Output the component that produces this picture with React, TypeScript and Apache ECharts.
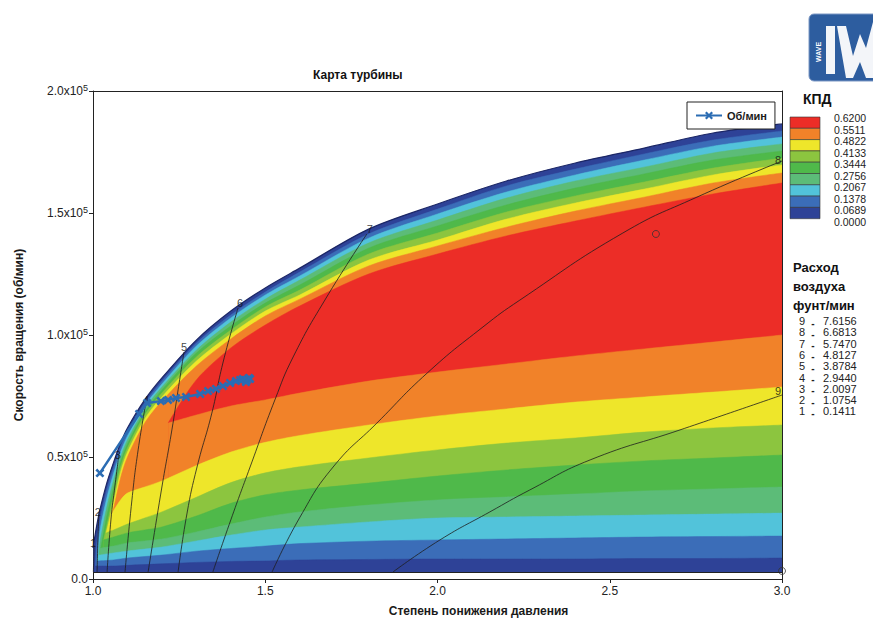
import { useEffect, useRef } from "react";
import * as echarts from "echarts";

const FONT = "'Liberation Sans', Arial, sans-serif";

// x: pressure ratio, y: rotor speed in thousands of rpm
const ENVELOPE = [[1.0,12.7],[1.01,21.3],[1.02,28.3],[1.04,39.3],[1.06,47.9],[1.08,55.7],[1.1,61.9],[1.15,73.4],[1.2,82.4],[1.3,97.9],[1.4,109.8],[1.5,119.3],[1.6,127.4],[1.8,143.4],[2.0,153.7],[2.2,163.1],[2.4,170.5],[2.6,176.6],[2.8,182.8],[3.0,186.5]];

// upper branches of efficiency contours (levels 1..8)
const KPD_U1 = [[1.007,5.3],[1.01,13.9],[1.02,24.2],[1.04,36.5],[1.06,45.9],[1.08,54.1],[1.1,60.2],[1.15,72.1],[1.2,81.1],[1.3,96.7],[1.4,108.2],[1.5,117.6],[1.6,125.8],[1.8,141.4],[2.0,151.6],[2.2,161.1],[2.4,168.0],[2.6,174.2],[2.8,179.9],[3.0,183.6]];
const KPD_U2 = [[1.012,7.4],[1.02,19.7],[1.04,33.2],[1.06,43.4],[1.08,52.0],[1.1,58.6],[1.15,70.9],[1.2,79.9],[1.3,95.5],[1.4,107.0],[1.5,116.4],[1.6,124.2],[1.8,139.7],[2.0,149.6],[2.2,158.6],[2.4,165.6],[2.6,171.7],[2.8,177.4],[3.0,181.1]];
const KPD_U3 = [[1.017,9.8],[1.02,14.8],[1.04,29.5],[1.06,40.6],[1.08,50.0],[1.1,57.0],[1.15,69.7],[1.2,78.7],[1.3,93.8],[1.4,105.3],[1.5,114.7],[1.6,122.5],[1.8,137.7],[2.0,147.1],[2.2,156.1],[2.4,163.1],[2.6,168.8],[2.8,174.6],[3.0,178.3]];
const KPD_U4 = [[1.023,12.7],[1.04,25.8],[1.06,37.7],[1.08,47.9],[1.1,55.3],[1.15,68.4],[1.2,77.5],[1.3,92.6],[1.4,103.7],[1.5,113.1],[1.6,120.5],[1.8,135.6],[2.0,144.7],[2.2,153.3],[2.4,160.2],[2.6,166.0],[2.8,171.7],[3.0,175.4]];
const KPD_U5 = [[1.031,16.0],[1.04,21.7],[1.06,34.8],[1.08,45.9],[1.1,53.7],[1.15,67.2],[1.2,76.2],[1.3,91.0],[1.4,102.0],[1.5,111.5],[1.6,118.4],[1.8,133.2],[2.0,141.8],[2.2,150.4],[2.4,157.0],[2.6,162.7],[2.8,168.4],[3.0,172.5]];
const KPD_U6 = [[1.038,18.9],[1.06,31.6],[1.08,43.8],[1.1,52.0],[1.15,65.6],[1.2,74.6],[1.3,89.3],[1.4,100.4],[1.5,109.8],[1.6,116.4],[1.8,130.7],[2.0,138.9],[2.2,147.5],[2.4,154.1],[2.6,159.8],[2.8,165.6],[3.0,169.7]];
const KPD_U7 = [[1.055,27.0],[1.06,29.1],[1.08,41.4],[1.1,50.0],[1.15,63.9],[1.2,72.9],[1.3,87.3],[1.4,98.4],[1.5,107.8],[1.6,114.7],[1.8,128.3],[2.0,136.5],[2.2,144.2],[2.4,150.8],[2.6,156.5],[2.8,162.3],[3.0,166.4]];
const KPD_U8 = [[1.218,63.9],[1.3,81.6],[1.4,94.7],[1.5,104.1],[1.6,111.9],[1.8,125.0],[2.0,133.2],[2.2,140.6],[2.4,146.7],[2.6,152.4],[2.8,157.8],[3.0,162.3]];

// lower branches of efficiency contours (levels 8..1)
const KPD_L8 = [[1.218,63.9],[1.3,67.2],[1.4,70.9],[1.5,73.4],[1.6,76.2],[1.8,81.1],[2.0,84.8],[2.2,88.1],[2.4,91.4],[2.6,94.3],[2.8,97.1],[3.0,100.0]];
const KPD_L7 = [[1.055,27.0],[1.08,32.4],[1.1,35.2],[1.15,37.7],[1.2,40.2],[1.3,46.5],[1.4,52.0],[1.5,56.0],[1.6,58.8],[1.8,63.1],[2.0,66.8],[2.2,69.7],[2.4,72.5],[2.6,74.6],[2.8,76.6],[3.0,78.7]];
const KPD_L6 = [[1.038,18.9],[1.06,20.1],[1.08,21.3],[1.1,22.5],[1.15,25.0],[1.2,27.5],[1.3,33.5],[1.4,39.5],[1.5,43.5],[1.6,46.0],[1.8,49.6],[2.0,52.9],[2.2,55.7],[2.4,57.8],[2.6,60.2],[2.8,61.9],[3.0,63.1]];
const KPD_L5 = [[1.031,16.0],[1.06,17.2],[1.1,18.9],[1.15,20.1],[1.2,21.3],[1.3,25.8],[1.4,31.0],[1.5,34.5],[1.6,36.5],[1.8,39.3],[2.0,42.2],[2.2,44.7],[2.4,46.7],[2.6,48.4],[2.8,49.6],[3.0,50.8]];
const KPD_L4 = [[1.023,12.7],[1.06,13.5],[1.1,14.8],[1.2,16.4],[1.3,19.3],[1.4,22.5],[1.5,25.4],[1.6,27.5],[1.8,30.3],[2.0,32.4],[2.2,33.6],[2.4,34.8],[2.6,36.1],[2.8,36.9],[3.0,37.7]];
const KPD_L3 = [[1.017,9.8],[1.06,10.7],[1.1,11.5],[1.2,13.1],[1.3,15.6],[1.4,18.0],[1.5,20.1],[1.6,21.3],[1.8,23.4],[2.0,25.0],[2.2,25.4],[2.4,25.8],[2.6,26.2],[2.8,26.6],[3.0,27.0]];
const KPD_L2 = [[1.012,7.4],[1.06,7.8],[1.1,8.6],[1.2,9.8],[1.3,11.4],[1.4,12.5],[1.5,13.5],[1.6,14.5],[1.8,15.5],[2.0,16.0],[2.2,16.4],[2.4,16.8],[2.6,17.2],[2.8,17.4],[3.0,17.6]];
const KPD_L1 = [[1.007,5.3],[1.06,5.3],[1.1,5.6],[1.2,6.2],[1.3,6.8],[1.4,7.2],[1.5,7.4],[1.6,7.8],[1.8,8.0],[2.0,8.2],[2.2,8.2],[2.4,8.2],[2.6,8.4],[2.8,8.4],[3.0,8.6]];

const MAP_BASE_K = 2.9;

const KPD_LEVELS = ["0.6200","0.5511","0.4822","0.4133","0.3444","0.2756","0.2067","0.1378","0.0689","0.0000"];
const BAND_COLORS = ["#2e4297","#3b6db8","#52c3da","#5cbc78","#4fb94a","#8cc53f","#eee62a","#f18229","#ec2d27"];

// constant mass-flow lines
const FLOW_1 = [[1.001,2.9],[1.002,8.2],[1.003,13.9]];
const FLOW_2 = [[1.012,2.9],[1.014,14.8],[1.017,27.5]];
const FLOW_3 = [[1.041,2.9],[1.052,24.2],[1.064,38.5],[1.075,50.8]];
const FLOW_4 = [[1.093,2.9],[1.113,32.4],[1.131,52.9],[1.154,72.5]];
const FLOW_5 = [[1.160,2.9],[1.200,37.7],[1.229,61.1],[1.247,77.5],[1.264,93.0]];
const FLOW_6 = [[1.247,2.9],[1.273,27.0],[1.302,45.9],[1.345,68.0],[1.377,88.5],[1.421,111.1]];
const FLOW_7 = [[1.348,2.9],[1.400,24.2],[1.456,45.9],[1.528,73.4],[1.581,91.0],[1.673,114.3],[1.795,141.4]];
const FLOW_8 = [[1.520,2.9],[1.601,25.4],[1.697,45.9],[1.824,63.9],[1.970,84.4],[2.132,103.3],[2.239,114.3],[2.538,141.8],[2.753,156.5],[3.0,171.3]];
const FLOW_9 = [[1.871,2.9],[2.007,16.0],[2.152,27.5],[2.268,36.5],[2.443,48.8],[2.704,61.1],[3.0,75.4]];
const FLOW_NAMES = ["1","2","3","4","5","6","7","8","9"];
const FLOW_VALUES = ["0.1411","1.0754","2.0097","2.9440","3.8784","4.8127","5.7470","6.6813","7.6156"];

const MARKERS = [[2.634,141.4],[3.0,3.3]];

const SPEED = [[1.020,43.4],[1.134,67.6],[1.157,72.1],[1.197,72.9],[1.218,73.4],[1.241,74.2],[1.270,74.6],[1.311,75.8],[1.334,77.0],[1.357,77.9],[1.377,79.1],[1.398,80.3],[1.415,81.1],[1.427,81.6],[1.435,82.0],[1.447,81.6],[1.456,82.0],[1.444,80.7],[1.453,82.4]];

const Y_TICK_MANTISSA = ["0.0","0.5","1.0","1.5","2.0"];

const K = 1000;

function buildOption() {
  const polys: { pts: number[][]; band: number; edge?: boolean }[] = [
    { pts: ENVELOPE, band: 0, edge: true },
    { pts: KPD_U1, band: 1 }, { pts: KPD_U2, band: 2 }, { pts: KPD_U3, band: 3 }, { pts: KPD_U4, band: 4 },
    { pts: KPD_U5, band: 5 }, { pts: KPD_U6, band: 6 }, { pts: KPD_U7, band: 7 }, { pts: KPD_U8, band: 8 },
    { pts: KPD_L8, band: 7 }, { pts: KPD_L7, band: 6 }, { pts: KPD_L6, band: 5 }, { pts: KPD_L5, band: 4 },
    { pts: KPD_L4, band: 3 }, { pts: KPD_L3, band: 2 }, { pts: KPD_L2, band: 1 }, { pts: KPD_L1, band: 0 },
  ];
  const flows = [FLOW_1, FLOW_2, FLOW_3, FLOW_4, FLOW_5, FLOW_6, FLOW_7, FLOW_8, FLOW_9];
  const labelOffsets = [[-1,-2],[-1,0],[-1,0],[0,-2],[0,-5],[2,-5],[3,-5],[-4,-1],[-4,-4]];
  const axisText = { color: "#222", fontFamily: FONT };

  const graphic: any[] = [];
  // colour bar legend
  graphic.push({ type: "text", x: 803, y: 99, style: { text: "КПД", font: `bold 14px ${FONT}`, fill: "#111", verticalAlign: "middle" } });
  for (let i = 0; i < BAND_COLORS.length; i++) {
    graphic.push({ type: "rect", shape: { x: 790, y: 117 + i * 11.3, width: 30, height: 11.3 }, style: { fill: BAND_COLORS[BAND_COLORS.length - 1 - i], stroke: "#333", lineWidth: 0.6 } });
  }
  KPD_LEVELS.forEach((t, i) => {
    graphic.push({ type: "text", x: 834, y: 118 + i * 11.55, style: { text: t, font: `10.5px ${FONT}`, fill: "#222", verticalAlign: "middle" } });
  });
  ["Расход", "воздуха", "фунт/мин"].forEach((t, i) => {
    graphic.push({ type: "text", x: 793, y: 267 + i * 19, style: { text: t, font: `bold 13px ${FONT}`, fill: "#111", verticalAlign: "middle" } });
  });
  for (let j = 0; j < FLOW_NAMES.length; j++) {
    const idx = FLOW_NAMES.length - 1 - j;
    const y = 321 + j * 11.3;
    graphic.push({ type: "text", x: 802, y, style: { text: FLOW_NAMES[idx], font: `11px ${FONT}`, fill: "#222", align: "center", verticalAlign: "middle" } });
    graphic.push({ type: "text", x: 813, y: y + 2, style: { text: "-", font: `bold 10px ${FONT}`, fill: "#222", align: "center", verticalAlign: "middle" } });
    graphic.push({ type: "text", x: 823, y, style: { text: FLOW_VALUES[idx], font: `11px ${FONT}`, fill: "#222", verticalAlign: "middle" } });
  }
  // logo
  graphic.push({ type: "rect", shape: { x: 809, y: 14, width: 72, height: 67, r: 5 }, style: { fill: "#2d5d9f", stroke: "#7d98c4", lineWidth: 1 } });
  graphic.push({ type: "text", x: 818, y: 52, rotation: Math.PI / 2, style: { text: "WAVE", font: `bold 7px ${FONT}`, fill: "#fff", align: "center", verticalAlign: "middle" } });
  graphic.push({ type: "rect", shape: { x: 826, y: 26, width: 9, height: 48 }, style: { fill: "#f3f5f9" } });
  graphic.push({ type: "polygon", shape: { points: [[837,26],[846,26],[853,56],[860,34],[866,48],[873,22],[873,78],[866,78],[860,62],[853,78],[846,78]] }, style: { fill: "#f3f5f9" } });

  const bandSeries = polys.map((p, i) => ({
    type: "line",
    name: "kpd" + i,
    data: p.pts.map((q) => [q[0], q[1] * K]),
    smooth: 0.3,
    symbol: "none",
    showSymbol: false,
    silent: true,
    z: 1,
    lineStyle: p.edge ? { color: "#1c2766", width: 1.2 } : { color: BAND_COLORS[p.band], width: 0.5 },
    areaStyle: { color: BAND_COLORS[p.band], opacity: 1, origin: MAP_BASE_K * K },
    ...(i === 0
      ? {
          markLine: {
            silent: true, symbol: "none", label: { show: false },
            lineStyle: { color: "#222", width: 1, type: "solid" },
            data: [{ yAxis: MAP_BASE_K * K }],
          },
        }
      : {}),
  }));

  return {
    animation: false,
    backgroundColor: "#fff",
    title: { text: "Карта турбины", left: 308, top: 64, textStyle: { fontSize: 12, fontWeight: "bold", color: "#111", fontFamily: FONT } },
    legend: {
      data: ["Об/мин"], left: 687, top: 102, backgroundColor: "#fff", borderColor: "#222", borderWidth: 1,
      padding: [8, 8, 8, 8], itemWidth: 26, itemHeight: 10, borderRadius: 0,
      textStyle: { fontSize: 11, fontWeight: "bold", color: "#1a1a1a", fontFamily: FONT },
    },
    grid: { left: 93, right: 91, top: 91, bottom: 44 },
    xAxis: [
      {
        type: "value", min: 1, max: 3, interval: 0.5,
        name: "Степень понижения давления", nameLocation: "middle", nameGap: 26,
        nameTextStyle: { fontSize: 12, fontWeight: "bold", color: "#1a1a1a", fontFamily: FONT, padding: [0, 0, 0, 82] },
        axisLine: { lineStyle: { color: "#222" } },
        axisTick: { length: 4, lineStyle: { color: "#222" } },
        axisLabel: { fontSize: 12, margin: 6, ...axisText, formatter: (v: number) => v.toFixed(1) },
        splitLine: { show: false },
      },
      {
        type: "value", min: 1, max: 3, position: "top",
        axisLine: { show: true, onZero: false, lineStyle: { color: "#222" } },
        axisTick: { show: false }, axisLabel: { show: false }, splitLine: { show: false },
      },
    ],
    yAxis: [
      {
        type: "value", min: 0, max: 200000, interval: 50000,
        name: "Скорость вращения (об/мин)", nameLocation: "middle", nameGap: 68,
        nameTextStyle: { fontSize: 12, fontWeight: "bold", color: "#1a1a1a", fontFamily: FONT },
        axisLine: { show: true, lineStyle: { color: "#222" } },
        axisTick: { show: true, length: 4, lineStyle: { color: "#222" } },
        axisLabel: {
          margin: 5, ...axisText,
          formatter: (v: number) => {
            const i = Math.round(v / 50000);
            if (i === 0) return `{m|${Y_TICK_MANTISSA[0]}}`;
            return `{m|${Y_TICK_MANTISSA[i]}x10}{s|5}`;
          },
          rich: {
            m: { fontSize: 12, lineHeight: 16, color: "#222", fontFamily: FONT },
            s: { fontSize: 9, lineHeight: 8, verticalAlign: "top", color: "#222", fontFamily: FONT },
          },
        },
        splitLine: { show: false },
      },
      {
        type: "value", min: 0, max: 200000, position: "right",
        axisLine: { show: true, onZero: false, lineStyle: { color: "#222" } },
        axisTick: { show: false }, axisLabel: { show: false }, splitLine: { show: false },
      },
    ],
    graphic,
    series: [
      ...bandSeries,
      ...flows.map((f, i) => ({
        type: "line",
        name: "flow" + FLOW_NAMES[i],
        data: f.map((q) => [q[0], q[1] * K]),
        smooth: 0.5,
        showSymbol: false,
        symbol: "none",
        silent: true,
        z: 3,
        lineStyle: { color: "#1e1e1e", width: 0.8 },
      })),
      {
        type: "scatter",
        name: "flowLabels",
        silent: true,
        z: 4,
        symbolSize: 0,
        data: flows.map((f, i) => ({ value: [f[f.length - 1][0], f[f.length - 1][1] * K], label: { offset: labelOffsets[i] } })),
        label: { show: true, position: "inside", formatter: (p: any) => FLOW_NAMES[p.dataIndex], fontSize: 11, color: "#111", fontFamily: FONT },
      },
      {
        type: "scatter",
        name: "markers",
        silent: true,
        z: 4,
        symbol: "circle",
        symbolSize: 7,
        itemStyle: { color: "transparent", borderColor: "#333", borderWidth: 1 },
        data: MARKERS.map((m) => [m[0], m[1] * K]),
      },
      {
        type: "line",
        name: "Об/мин",
        data: SPEED.map((q) => [q[0], q[1] * K]),
        symbol: "path://M2,0 L5,3 L8,0 L10,2 L7,5 L10,8 L8,10 L5,7 L2,10 L0,8 L3,5 L0,2 Z",
        symbolSize: 9,
        showSymbol: true,
        z: 5,
        lineStyle: { color: "#2b6cb3", width: 2.5 },
        itemStyle: { color: "#2b6cb3" },
      },
    ],
  };
}

export default function App() {
  const ref = useRef<HTMLDivElement>(null);
  useEffect(() => {
    if (!ref.current) return;
    const chart = echarts.init(ref.current, null, { renderer: "svg" });
    chart.setOption(buildOption() as any);
    return () => chart.dispose();
  }, []);
  return <div ref={ref} style={{ position: "absolute", left: 0, top: 0, width: 873, height: 623 }} />;
}
